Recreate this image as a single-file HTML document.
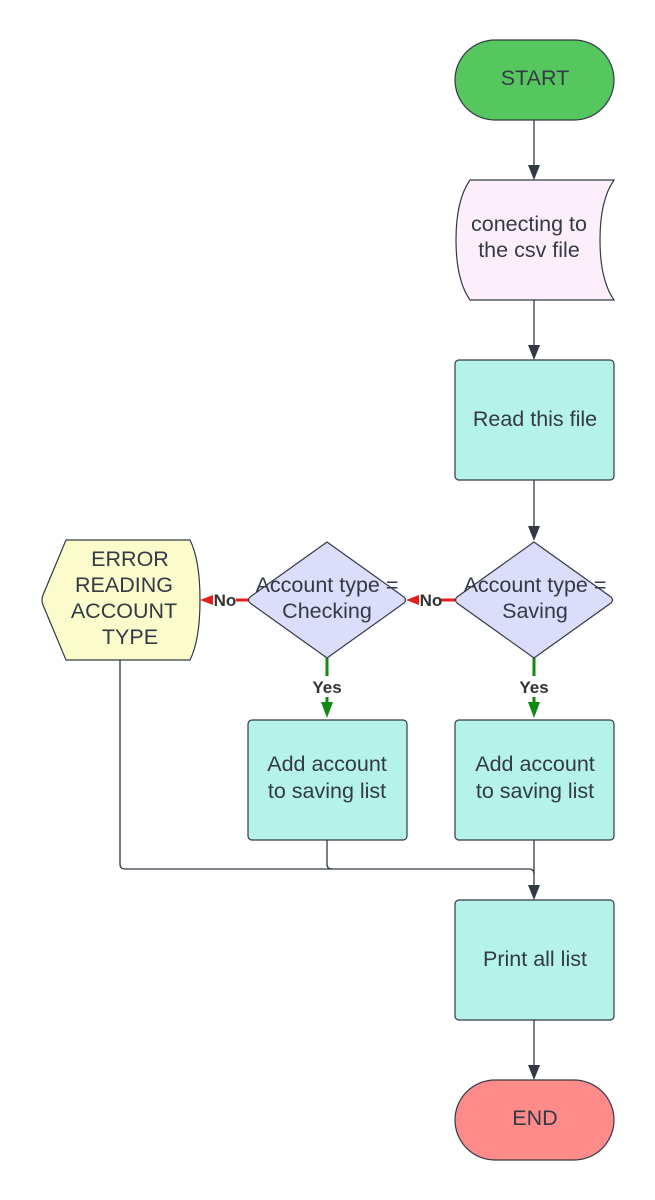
<!DOCTYPE html>
<html><head><meta charset="utf-8"><style>
html,body{margin:0;padding:0;background:#fff;}
svg{display:block;font-family:"Liberation Sans",sans-serif;}
text{fill:#333a45;font-size:21.5px;text-anchor:middle;}
.lb{font-size:17px;font-weight:bold;fill:#333;}
</style></head><body>
<svg width="655" height="1200" viewBox="0 0 655 1200" xmlns="http://www.w3.org/2000/svg">
<g stroke="#333a45" stroke-width="1.3" fill="none">
<line x1="534" y1="120" x2="534" y2="166"/>
<path d="M528,165 L540,165 L534,180 z" fill="#333a45" stroke="none"/>
<line x1="534" y1="300" x2="534" y2="346"/>
<path d="M528,345 L540,345 L534,360 z" fill="#333a45" stroke="none"/>
<line x1="534" y1="480" x2="534" y2="527"/>
<path d="M528,526 L540,526 L534,541 z" fill="#333a45" stroke="none"/>
<line x1="534" y1="840" x2="534" y2="886"/>
<path d="M120,660 L120,864 Q120,869 125,869 L529,869 Q534,869 534,874"/>
<path d="M327,840 L327,864 Q327,869 332,869"/>
<path d="M528,885 L540,885 L534,900 z" fill="#333a45" stroke="none"/>
<line x1="534" y1="1020" x2="534" y2="1066"/>
<path d="M528,1065 L540,1065 L534,1080 z" fill="#333a45" stroke="none"/>
</g>
<line x1="441" y1="600" x2="456" y2="600" stroke="#e02020" stroke-width="3"/>
<path d="M406,600 L419,595 L419,605 z" fill="#e02020"/>
<line x1="236" y1="600" x2="249" y2="600" stroke="#e02020" stroke-width="3"/>
<path d="M200,600 L213,595 L213,605 z" fill="#e02020"/>
<text x="431" y="606" class="lb">No</text>
<text x="225" y="606" class="lb">No</text>
<line x1="534" y1="658" x2="534" y2="676" stroke="#118a11" stroke-width="3"/>
<line x1="534" y1="697" x2="534" y2="705" stroke="#118a11" stroke-width="3"/>
<path d="M528,702 L540,702 L534,718 z" fill="#118a11"/>
<line x1="327" y1="658" x2="327" y2="676" stroke="#118a11" stroke-width="3"/>
<line x1="327" y1="697" x2="327" y2="705" stroke="#118a11" stroke-width="3"/>
<path d="M321,702 L333,702 L327,718 z" fill="#118a11"/>
<text x="534" y="693" class="lb">Yes</text>
<text x="327" y="693" class="lb">Yes</text>
<g stroke="#333a45" stroke-width="1.2">
<rect x="455" y="40" width="159" height="80" rx="40" fill="#56c65f"/>
<path d="M470,180 L614,180 Q600,200 600,240 Q600,280 614,300 L470,300 Q456,280 456,240 Q456,200 470,180 z" fill="#fdeefb"/>
<rect x="455" y="360" width="159" height="120" rx="4" fill="#b5f2ea"/>
<path d="M534,542 L611,597 Q614,600 611,603 L534,658 L457,603 Q454,600 457,597 z" fill="#dcdcfb"/>
<path d="M327,542 L404,597 Q407,600 404,603 L327,658 L250,603 Q247,600 250,597 z" fill="#dcdcfb"/>
<path d="M66,540 L190,540 Q200,560 200,600 Q200,640 190,660 L66,660 L43,605 Q41,600 43,595 z" fill="#fbfbcb"/>
<rect x="248" y="720" width="159" height="120" rx="4" fill="#b5f2ea"/>
<rect x="455" y="720" width="159" height="120" rx="4" fill="#b5f2ea"/>
<rect x="455" y="900" width="159" height="120" rx="4" fill="#b5f2ea"/>
<rect x="455" y="1080" width="159" height="80" rx="40" fill="#ff8a8a"/>
</g>
<text x="535" y="85">START</text>
<text x="529" y="231">conecting to</text>
<text x="529" y="257">the csv file</text>
<text x="535" y="426">Read this file</text>
<text x="535" y="592">Account type =</text>
<text x="535" y="618">Saving</text>
<text x="327" y="592">Account type =</text>
<text x="327" y="618">Checking</text>
<text x="130" y="566">ERROR</text>
<text x="124" y="592">READING</text>
<text x="124" y="618">ACCOUNT</text>
<text x="130" y="644">TYPE</text>
<text x="327" y="771">Add account</text>
<text x="327" y="798">to saving list</text>
<text x="535" y="771">Add account</text>
<text x="535" y="798">to saving list</text>
<text x="535" y="966">Print all list</text>
<text x="535" y="1125">END</text>
</svg>
</body></html>
